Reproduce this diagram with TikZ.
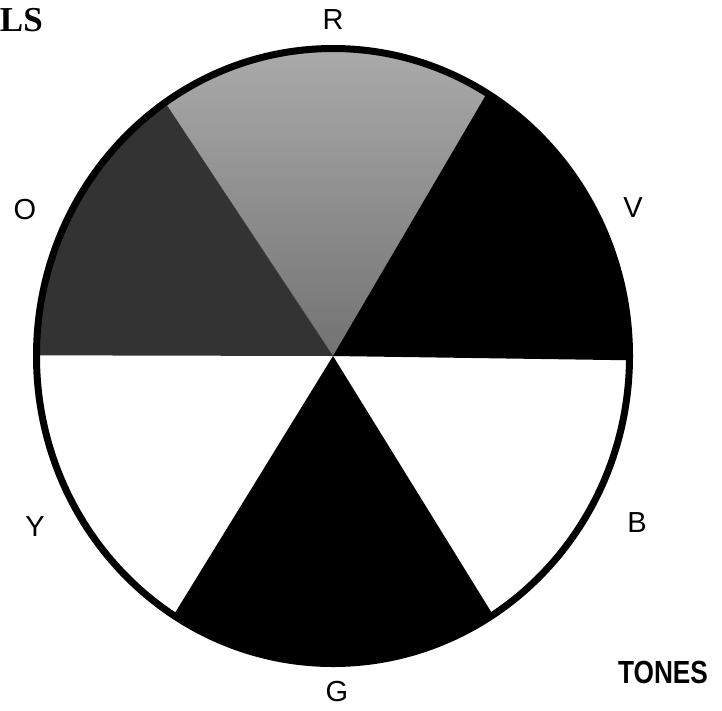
\documentclass[tikz,border=0pt]{standalone}
\usepackage{fontspec}
\setmainfont{Liberation Sans}
\newfontfamily\lsfont{Liberation Serif}
\begin{document}
\begin{tikzpicture}[x=1pt,y=-1pt,
  lbl/.style={inner sep=0pt, font=\fontsize{29}{29}\selectfont},
  ring/.style={draw=black, line width=7pt},
  lightsector/.style={top color=black!28, bottom color=black!55},
  darksector/.style={fill=black!80},
  blacksector/.style={fill=black}]
\useasboundingbox (0,0) rectangle (722,710);
\coordinate (c) at (333,356);
\coordinate (p1) at (558,-28);
\coordinate (p2) at (88.5,-13);
\coordinate (p3) at (-100,355);
\coordinate (p4) at (100.5,734);
\coordinate (p5) at (568.5,737);
\coordinate (p6) at (750,362);
\begin{scope}
  \clip (c) ellipse [x radius=296.5pt, y radius=307.5pt];
  \fill[lightsector] (c) -- (p1) -- (p2) -- cycle;
  \fill[darksector] (c) -- (p2) -- (-100,-100) -- (p3) -- cycle;
  \fill[blacksector] (c) -- (p6) -- (750,-100) -- (p1) -- cycle;
  \fill[blacksector] (c) -- (p4) -- (p5) -- cycle;
\end{scope}
\draw[ring] (c) ellipse [x radius=296.5pt, y radius=307.5pt];
\node[lbl] (R) at (333,20) {R};
\node[lbl] (O) at (25,210) {O};
\node[lbl] (V) at (633,208) {V};
\node[lbl] (Y) at (35,527) {Y};
\node[lbl] (B) at (637,523) {B};
\node[lbl] (G) at (337,692) {G};
\node[inner sep=0pt, anchor=east, font=\lsfont\bfseries\fontsize{35}{35}\selectfont] (LS) at (43,20) {LS};
\node[inner sep=0pt, xscale=0.82, transform shape, font=\bfseries\fontsize{32}{32}\selectfont] (T) at (663,672) {TONES};
\end{tikzpicture}
\end{document}
